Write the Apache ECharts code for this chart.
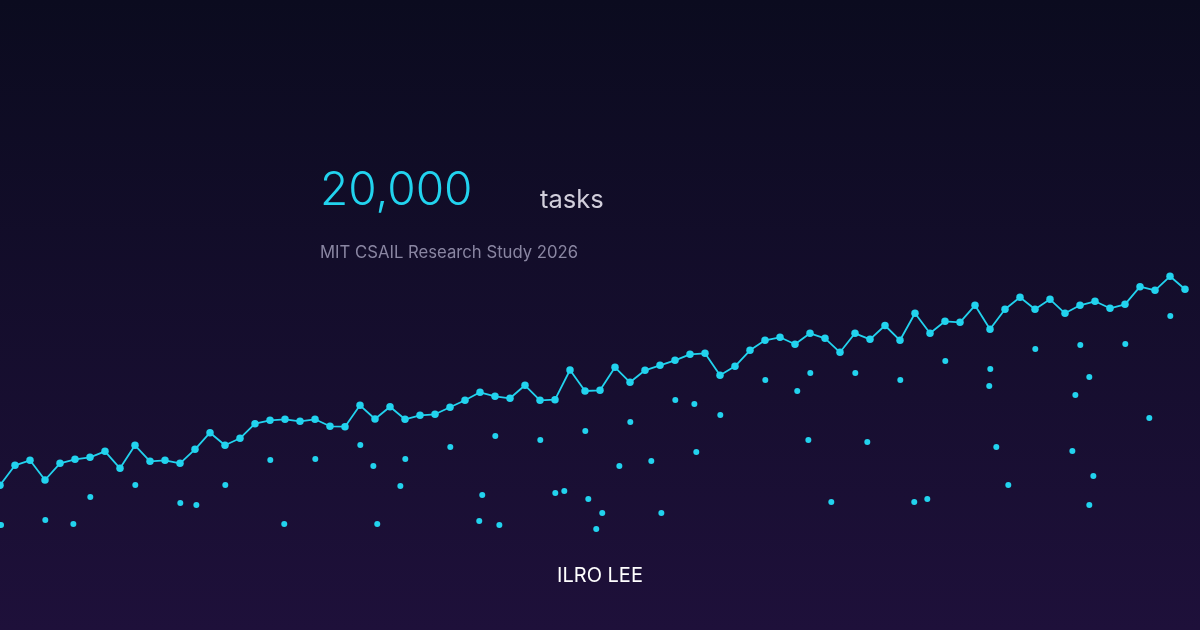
<!DOCTYPE html>
<html>
<head>
<meta charset="utf-8">
<script src="https://cdn.jsdelivr.net/npm/echarts@6/dist/echarts.min.js"></script>
<style>
html,body{margin:0;padding:0;width:1200px;height:630px;overflow:hidden;background:#0b0b1f;}
#chart{width:1200px;height:630px;}
</style>
</head>
<body>
<div id="chart"></div>
<script>
// Trend line: one value per step (index 0..79)
const lineValues = [
  144.7,164.7,169.7,150,166.7,170.7,172.7,178.7,161.7,184.7,
  168.7,169.7,166.7,180.7,197.3,184.7,191.7,206.3,209.7,210.7,
  208.7,210.7,203.7,203.3,224.7,211,223.3,210.7,214.7,215.7,
  222.7,229.7,237.7,233.7,231.7,244.7,229.7,230.3,260,239,
  239.7,262.7,247.7,259.7,264.7,269.7,275.7,276.7,254.7,263.7,
  279.7,289.7,292.7,285.7,296.7,291.7,277.7,296.7,290.7,304.5,
  289.7,316.7,296.7,308.7,307.7,324.7,300.7,320.7,332.7,320.7,
  330.7,316.7,324.7,328.7,321.7,325.7,343.3,339.7,353.7,340.7
];
// Individual observations (scatter)
const scatterX = [
  0.07,3.02,4.89,6.02,9.02,12.02,13.09,15.02,18.02,18.95,
  21.02,24.02,24.89,25.15,26.69,27.02,30.02,31.95,32.15,33.02,33.29,36.02,37.02,37.62,39.02,39.22,
  39.75,40.15,41.29,42.02,43.42,44.09,45.02,46.29,46.42,48.02,51.02,53.15,53.89,54.02,55.42,57.02,57.82,
  60.02,60.95,61.82,63.02,65.95,66.02,66.42,67.22,69.02,71.49,71.69,72.02,72.62,72.62,72.89,75.02,76.62,78.02
];
const scatterY = [
  105,110,106,133,145,127,125,145,170,106,
  171,185,164,106,144,171,183,109,135,194,105,190,137,139,199,131,
  101,117,164,208,169,117,230,226,178,215,250,239,190,257,128,257,188,
  250,128,131,269,244,261,183,145,281,179,235,285,253,125,154,286,212,314
];
const headline = "20,000";
const unitLabel = "tasks";
const subtitle = "MIT CSAIL Research Study 2026";
const author = "ILRO LEE";

const lineData = lineValues.map((v, i) => [i, v]);
const scatterData = scatterX.map((x, i) => [x, scatterY[i]]);

const chart = echarts.init(document.getElementById('chart'), null, {renderer: 'canvas'});
const cyan = '#22d3ee';
chart.setOption({
  animation: false,
  backgroundColor: {
    type: 'linear', x: 0, y: 0, x2: 0, y2: 1,
    colorStops: [{offset: 0, color: '#0b0b1f'}, {offset: 1, color: '#1e103a'}]
  },
  grid: {left: 0, right: 0, top: 0, bottom: 0},
  xAxis: {type: 'value', min: 0, max: 80, show: false},
  yAxis: {type: 'value', min: 0, max: 630, show: false},
  series: [
    {
      type: 'scatter',
      data: scatterData,
      symbolSize: 6,
      itemStyle: {color: cyan, opacity: 1},
      silent: true
    },
    {
      type: 'line',
      data: lineData,
      symbol: 'circle',
      symbolSize: 7.5,
      showAllSymbol: true,
      lineStyle: {color: cyan, width: 1.8},
      itemStyle: {color: cyan},
      silent: true
    }
  ],
  graphic: [
    {type: 'text', x: 320, y: 168, style: {text: headline, fill: cyan, font: '300 46px Inter', verticalAlign: 'top'}},
    {type: 'text', x: 540, y: 187, style: {text: unitLabel, fill: '#d2cfdc', font: '400 25.5px Inter', verticalAlign: 'top'}},
    {type: 'text', x: 320, y: 244.5, style: {text: subtitle, fill: '#8a86a2', font: '400 16.7px Inter', verticalAlign: 'top'}},
    {type: 'text', x: 600, y: 566, style: {text: author, fill: '#ffffff', font: '400 20px Inter', align: 'center', verticalAlign: 'top'}}
  ]
});
</script>
</body>
</html>
